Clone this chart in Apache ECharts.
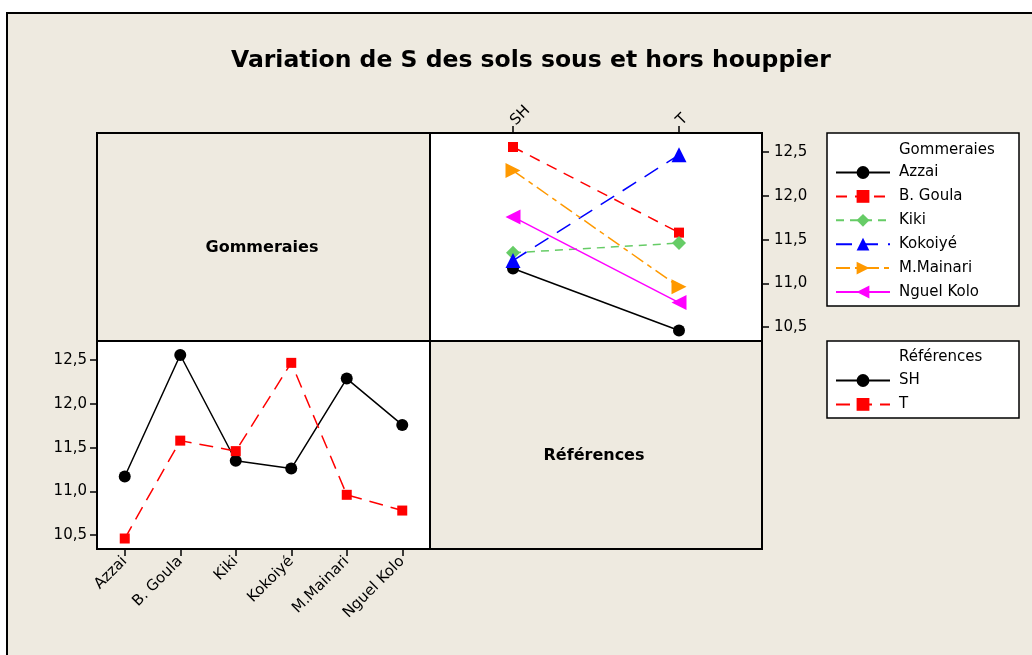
<!DOCTYPE html>
<html>
<head>
<meta charset="utf-8">
<script src="https://cdn.jsdelivr.net/npm/echarts@6/dist/echarts.min.js"></script>
<style>
  html, body { margin: 0; padding: 0; background: #fff; }
  #chart { width: 1032px; height: 655px; }
</style>
</head>
<body>
<div id="chart"></div>
<script>
var gommeraies = ['Azzai', 'B. Goula', 'Kiki', 'Kokoiyé', 'M.Mainari', 'Nguel Kolo']
var references = ['SH', 'T']
// moyennes
var valSH = [11.17, 12.56, 11.35, 11.26, 12.29, 11.76]
var valT = [10.46, 11.58, 11.46, 12.47, 10.96, 10.78]
var yTicks = [10.5, 11.0, 11.5, 12.0, 12.5]

var beige = '#EEEAE0'
var font = 'DejaVu Sans'

var gomStyle = [
  { color: '#000000', symbol: 'circle', size: 12, rotate: 0, dash: 'solid' },
  { color: '#FF0000', symbol: 'rect', size: 10, rotate: 0, dash: [11, 8] },
  { color: '#66CC66', symbol: 'diamond', size: 14, rotate: 0, dash: [8, 6] },
  { color: '#0000FF', symbol: 'triangle', size: 15, rotate: 0, dash: [16, 10] },
  { color: '#FF9900', symbol: 'triangle', size: 15, rotate: -90, dash: [14, 5, 5, 5] },
  { color: '#FF00FF', symbol: 'triangle', size: 15, rotate: 90, dash: 'solid' }
]
var refStyle = [
  { color: '#000000', symbol: 'circle', size: 12, dash: 'solid' },
  { color: '#FF0000', symbol: 'rect', size: 10, dash: [14, 8] }
]

function fmt(v) {
  return v.toFixed(1).replace('.', ',')
}

var chart = echarts.init(document.getElementById('chart'))

var series = []
gommeraies.forEach(function (g, i) {
  var s = gomStyle[i]
  series.push({
    name: g,
    type: 'line',
    xAxisIndex: 0,
    yAxisIndex: 0,
    data: [valSH[i], valT[i]],
    symbol: s.symbol,
    symbolSize: s.size,
    symbolRotate: s.rotate,
    itemStyle: { color: s.color },
    lineStyle: { color: s.color, width: 1.5, type: s.dash },
    animation: false
  })
})
references.forEach(function (r, i) {
  var s = refStyle[i]
  series.push({
    name: r,
    type: 'line',
    xAxisIndex: 1,
    yAxisIndex: 1,
    data: i === 0 ? valSH : valT,
    symbol: s.symbol,
    symbolSize: s.size,
    itemStyle: { color: s.color },
    lineStyle: { color: s.color, width: 1.5, type: s.dash },
    animation: false
  })
})

var yAxisBase = {
  type: 'value',
  min: 10.34,
  max: 12.72,
  splitLine: { show: false },
  axisLine: { show: true, lineStyle: { color: '#000', width: 2 } },
  axisTick: { show: true, length: 7, customValues: yTicks, lineStyle: { color: '#000', width: 1.5 } },
  axisLabel: { customValues: yTicks, formatter: fmt, fontFamily: font, fontSize: 15, color: '#000' }
}

var legendBase = {
  orient: 'vertical',
  left: 835,
  padding: 0,
  itemWidth: 54,
  itemHeight: 16,
  itemGap: 8.9,
  selectedMode: false,
  textStyle: { fontFamily: font, fontSize: 15, color: '#000', padding: [0, 0, 0, 4] }
}

var option = {
  backgroundColor: '#fff',
  animation: false,
  title: {
    text: 'Variation de S des sols sous et hors houppier',
    left: 226,
    top: 44,
    textStyle: { fontFamily: font, fontWeight: 'bold', fontSize: 23.5, color: '#000' }
  },
  graphic: [
    // cadre exterieur
    { type: 'rect', z: -10, shape: { x: 7, y: 13, width: 1040, height: 660 },
      style: { fill: beige, stroke: '#000', lineWidth: 2 } },
    // panneaux d'etiquettes
    { type: 'rect', z: -5, shape: { x: 97, y: 133, width: 333, height: 208 },
      style: { fill: beige, stroke: '#000', lineWidth: 2 } },
    { type: 'text', style: { x: 262, y: 248, text: 'Gommeraies', fontFamily: font, fontWeight: 'bold',
      fontSize: 16, fill: '#000', align: 'center', verticalAlign: 'middle' } },
    { type: 'rect', z: -5, shape: { x: 430, y: 341, width: 332, height: 208 },
      style: { fill: beige, stroke: '#000', lineWidth: 2 } },
    { type: 'text', style: { x: 594, y: 456, text: 'Références', fontFamily: font, fontWeight: 'bold',
      fontSize: 16, fill: '#000', align: 'center', verticalAlign: 'middle' } },
    // boites de legende
    { type: 'rect', z: -5, shape: { x: 827, y: 133, width: 192, height: 173 },
      style: { fill: '#fff', stroke: '#000', lineWidth: 1.5 } },
    { type: 'text', style: { x: 899, y: 150, text: 'Gommeraies', fontFamily: font, fontSize: 15,
      fill: '#000', verticalAlign: 'middle' } },
    { type: 'rect', z: -5, shape: { x: 827, y: 341, width: 192, height: 77 },
      style: { fill: '#fff', stroke: '#000', lineWidth: 1.5 } },
    { type: 'text', style: { x: 899, y: 357, text: 'Références', fontFamily: font, fontSize: 15,
      fill: '#000', verticalAlign: 'middle' } }
  ],
  legend: [
    Object.assign({}, legendBase, { data: gommeraies, top: 165 }),
    Object.assign({}, legendBase, { data: references, top: 373 })
  ],
  grid: [
    { left: 430, top: 133, width: 332, height: 208, show: true, backgroundColor: '#fff',
      borderColor: '#000', borderWidth: 2 },
    { left: 97, top: 341, width: 333, height: 208, show: true, backgroundColor: '#fff',
      borderColor: '#000', borderWidth: 2 }
  ],
  xAxis: [
    {
      gridIndex: 0,
      type: 'category',
      position: 'top',
      data: references,
      axisLine: { show: true, lineStyle: { color: '#000', width: 2 } },
      axisTick: { show: true, length: 7, alignWithLabel: true, lineStyle: { color: '#000', width: 1.5 } },
      axisLabel: { rotate: -45, margin: 10, fontFamily: font, fontSize: 15, color: '#000' }
    },
    {
      gridIndex: 1,
      type: 'category',
      data: gommeraies,
      axisLine: { show: true, lineStyle: { color: '#000', width: 2 } },
      axisTick: { show: true, length: 7, alignWithLabel: true, lineStyle: { color: '#000', width: 1.5 } },
      axisLabel: { rotate: 45, margin: 10, interval: 0, fontFamily: font, fontSize: 15, color: '#000' }
    }
  ],
  yAxis: [
    Object.assign({}, yAxisBase, { gridIndex: 0, position: 'right',
      axisLabel: Object.assign({}, yAxisBase.axisLabel, { margin: 12 }) }),
    Object.assign({}, yAxisBase, { gridIndex: 1, position: 'left',
      axisLabel: Object.assign({}, yAxisBase.axisLabel, { margin: 10 }) })
  ],
  series: series
}

chart.setOption(option)
</script>
</body>
</html>
